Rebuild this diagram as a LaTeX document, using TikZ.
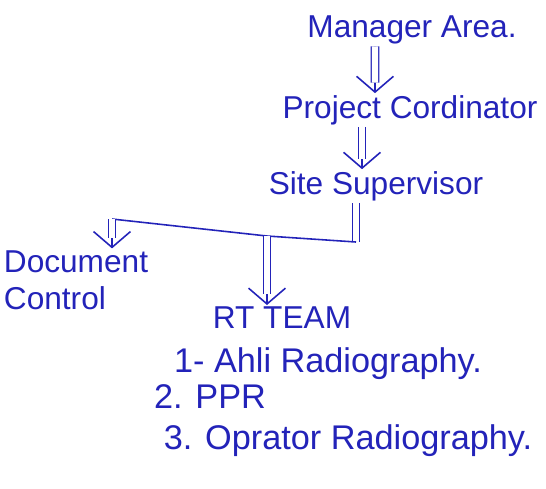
\documentclass[tikz,border=0pt]{standalone}
\usepackage{fontspec}
\setmainfont{Liberation Sans}
\usepackage{xcolor}
\usetikzlibrary{positioning,arrows.meta}
\definecolor{ink}{RGB}{35,35,185}

\begin{document}
\begin{tikzpicture}[
    x=0.02cm,y=-0.02cm,
    lbl/.style={text=ink,font=\fontsize{18}{21}\selectfont,inner sep=1pt},
    item/.style={lbl,font=\fontsize{19.5}{22}\selectfont},
    stem/.style={draw=ink,line width=0.8pt,double,double distance=3.5pt},
    flow/.style={stem,shorten >=6pt,
      preaction={draw=ink,line width=0.9pt,shorten >=0pt,-{Straight Barb[length=9pt,width=21pt]}}},
    bar/.style={draw=ink,line width=0.9pt}
  ]
    \useasboundingbox (0,0) rectangle (546,488);
    % chain of command
    \node[lbl] (mgr) at (412,30) {Manager Area.};
    \node[lbl] (pc) at (410,110) {Project Cordinator};
    \node[lbl] (ss) at (376,186) {Site Supervisor};
    \draw[flow] ([xshift=-0.74cm]mgr.south) -- ([xshift=-0.7cm]pc.north);
    \draw[flow] ([xshift=-0.96cm]pc.south) -- ([xshift=-0.96cm]pc.south |- ss.north);
    % split
    \coordinate (barR) at (356,242);
    \coordinate (barM) at (267,236);
    \coordinate (barL) at (112,219);
    \node[lbl,align=left] (dc) at (76,280) {Document\\Control};
    \node[lbl] (rt) at (282,318) {RT TEAM};
    \draw[stem] (ss.south -| barR) -- (barR);
    \draw[bar] (barR) -- (barM) -- (barL);
    \draw[flow] (barL) -- (barL |- dc.north);
    \draw[flow] (barM) -- (barM |- rt.north);
    % team members
    \node[item] (item1) at (328,364) {1- Ahli Radiography.};
    \node[item] (item2) at (210,397) {2. PPR};
    \node[item] (item3) at (348,441) {3. Oprator Radiography.};
  \end{tikzpicture}
\end{document}
